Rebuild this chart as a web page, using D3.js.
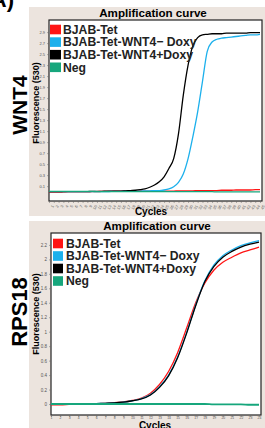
<!DOCTYPE html>
<html>
<head>
<meta charset="utf-8">
<script src="https://cdn.jsdelivr.net/npm/d3@7"></script>
<style>
  body { margin: 0; background: #fff; }
  svg { display: block; font-family: "Liberation Sans", Arial, sans-serif; }
</style>
</head>
<body>
<svg id="chart" width="265" height="428"></svg>
<script>
  const seriesNames = ['BJAB-Tet', 'BJAB-Tet-WNT4\u2212 Doxy', 'BJAB-Tet-WNT4+Doxy', 'Neg'];
  const seriesColors = ['#ff1414', '#1cb0ec', '#000000', '#16a67c'];

  // WNT4 run, 45 cycles
  const wntCycles = d3.range(1, 46);
  const wntRed = [-0.01, -0.01, -0.01, -0.005, 0, 0, 0, 0, 0, 0,
    0, 0.005, 0.005, 0.005, 0.01, 0.01, 0.01, 0.01, 0.01, 0.01,
    0.01, 0.01, 0.01, 0.01, 0.01, 0.01, 0.01, 0.015, 0.015, 0.015,
    0.015, 0.02, 0.02, 0.02, 0.02, 0.02, 0.025, 0.025, 0.025, 0.03,
    0.03, 0.03, 0.03, 0.035, 0.035];
  const wntBlue = [0, 0, 0, 0, 0, 0, 0, 0, 0, 0,
    0, 0, 0, 0.005, 0.005, 0.005, 0.01, 0.01, 0.01, 0.01,
    0.015, 0.015, 0.02, 0.02, 0.03, 0.05, 0.09, 0.17, 0.32, 0.6,
    1.0, 1.45, 2.0, 2.55, 2.72, 2.77, 2.79, 2.8, 2.81, 2.82,
    2.83, 2.84, 2.85, 2.85, 2.86];
  const wntBlack = [0, 0, 0, 0, 0, 0, 0, 0, 0, 0.005,
    0.005, 0.005, 0.01, 0.01, 0.01, 0.01, 0.015, 0.02, 0.025, 0.035,
    0.05, 0.08, 0.12, 0.18, 0.27, 0.42, 0.6, 1.05, 1.75, 2.3,
    2.65, 2.8, 2.85, 2.86, 2.87, 2.87, 2.87, 2.88, 2.88, 2.88,
    2.88, 2.88, 2.89, 2.89, 2.89];
  const wntGreen = [0.005, 0.005, 0.005, 0.005, 0.005, 0.005, 0.005, 0.005, 0.005, 0.005,
    0, 0, 0, 0, 0, 0, 0, 0, 0, 0,
    0, 0, 0, 0, 0, 0, 0, 0, 0, 0,
    0, 0, 0, 0, 0, -0.005, -0.005, -0.005, -0.005, -0.005,
    -0.005, -0.005, -0.005, -0.005, -0.005];
  const wntYTicks = [0.1, 0.3, 0.5, 0.7, 0.9, 1.1, 1.3, 1.5, 1.7, 1.9, 2.1, 2.3, 2.5, 2.7, 2.9];

  // RPS18 run, 24 cycles
  const rpsCycles = d3.range(1, 25);
  const rpsRed = [-0.01, -0.01, -0.005, 0, 0, 0.005, 0.01, 0.02, 0.03, 0.05,
    0.08, 0.15, 0.27, 0.45, 0.71, 1.05, 1.4, 1.67, 1.85, 1.96,
    2.03, 2.09, 2.13, 2.17];
  const rpsBlue = [-0.005, -0.005, 0, 0, 0, 0.005, 0.01, 0.015, 0.025, 0.045,
    0.075, 0.13, 0.24, 0.4, 0.65, 0.99, 1.37, 1.7, 1.92, 2.05,
    2.13, 2.19, 2.23, 2.26];
  const rpsBlack = [-0.005, -0.005, 0, 0, 0, 0.005, 0.01, 0.015, 0.025, 0.045,
    0.07, 0.125, 0.23, 0.39, 0.64, 0.98, 1.36, 1.69, 1.9, 2.03,
    2.11, 2.17, 2.21, 2.24];
  const rpsGreen = [0, 0, 0, 0, 0, 0, 0, 0, 0, 0,
    0, 0, 0, 0, 0, 0, 0, 0, -0.005, -0.005,
    -0.005, -0.005, -0.01, -0.01];
  const rpsYTicks = [0, 0.2, 0.4, 0.6, 0.8, 1, 1.2, 1.4, 1.6, 1.8, 2, 2.2];

  const svg = d3.select('#chart');

  // "A)" panel letter, mostly cropped off
  svg.append('text').attr('x', 14).attr('y', 7).attr('text-anchor', 'end')
    .attr('font-size', 22).attr('font-weight', 'bold').text('A)');

  function drawPanel(p) {
    const g = svg.append('g');
    g.append('rect').attr('x', p.bg[0]).attr('y', p.bg[1]).attr('width', p.bg[2]).attr('height', p.bg[3])
      .attr('fill', '#ece4de');
    g.append('rect').attr('x', p.box[0]).attr('y', p.box[1])
      .attr('width', p.box[2] - p.box[0]).attr('height', p.box[3] - p.box[1])
      .attr('fill', '#fff').attr('stroke', '#222').attr('stroke-width', 1.2);

    const x = d3.scaleLinear().domain([p.cycles[0], p.cycles[p.cycles.length - 1]]).range(p.xRange);
    const y = d3.scaleLinear().domain(p.yDomain).range([p.box[3], p.box[1]]);

    const yAxis = g.append('g').attr('transform', `translate(${p.box[0]},0)`)
      .call(d3.axisLeft(y).tickValues(p.yTicks).tickSize(2).tickPadding(2).tickFormat(d => String(d)));
    yAxis.select('.domain').remove();
    yAxis.selectAll('text').attr('font-size', p.tickFont).attr('fill', '#555').attr('font-family', 'Liberation Sans, Arial');
    yAxis.selectAll('line').attr('stroke', '#666').attr('stroke-width', 0.5);

    const xAxis = g.append('g').attr('transform', `translate(0,${p.box[3]})`)
      .call(d3.axisBottom(x).tickValues(p.cycles).tickSize(2).tickPadding(p.rotateX ? 1 : 0).tickFormat(d => String(d)));
    xAxis.select('.domain').remove();
    xAxis.selectAll('line').attr('stroke', '#666').attr('stroke-width', 0.5);
    xAxis.selectAll('text').attr('font-size', p.xTickFont).attr('fill', '#555').attr('font-family', 'Liberation Sans, Arial');
    if (p.rotateX) {
      xAxis.selectAll('text').attr('text-anchor', 'end').attr('dy', '0.3em')
        .attr('transform', 'translate(1,3) rotate(-60)');
    }

    const line = d3.line().x((d, i) => x(p.cycles[i])).y(d => y(d)).curve(d3.curveMonotoneX);
    p.series.forEach((s, i) => {
      g.append('path').datum(s).attr('d', line).attr('fill', 'none')
        .attr('stroke', seriesColors[i]).attr('stroke-width', p.widths[i]);
    });

    // legend
    seriesNames.forEach((name, i) => {
      const cy = p.legend.y + i * p.legend.step;
      g.append('rect').attr('x', p.legend.x).attr('y', cy - 4.8).attr('width', p.legend.w).attr('height', 9.6)
        .attr('fill', seriesColors[i]);
      g.append('text').attr('x', p.legend.tx).attr('y', cy + 4.3)
        .attr('font-size', 12.2).attr('font-weight', 'bold').attr('fill', '#222').text(name);
    });

    g.append('text').attr('x', p.title[0]).attr('y', p.title[1]).attr('text-anchor', 'middle')
      .attr('font-size', 11.6).attr('font-weight', 'bold').text('Amplification curve');
    g.append('text').attr('x', p.xLabel[0]).attr('y', p.xLabel[1]).attr('text-anchor', 'middle')
      .attr('font-size', 10).attr('font-weight', 'bold').text('Cycles');
    g.append('text').attr('transform', `translate(${p.yLabel[0]},${p.yLabel[1]}) rotate(-90)`)
      .attr('text-anchor', 'middle').attr('font-size', 9).attr('font-weight', 'bold').text('Fluorescence (530)');
    g.append('text').attr('transform', `translate(${p.gene[0]},${p.gene[1]}) rotate(-90)`)
      .attr('text-anchor', 'middle').attr('font-size', p.gene[2]).attr('font-weight', 'bold').text(p.geneName);
  }

  drawPanel({
    bg: [29, 7, 236, 209], box: [49, 20, 262, 201],
    cycles: wntCycles, xRange: [49, 260], yDomain: [-0.17, 3.12], yTicks: wntYTicks,
    series: [wntRed, wntBlue, wntBlack, wntGreen], widths: [1.3, 1.3, 1.3, 1.3],
    tickFont: 4, xTickFont: 4, rotateX: true,
    legend: { x: 50, w: 11, tx: 63, y: 29.5, step: 12.6 },
    title: [153, 17], xLabel: [151, 215], yLabel: [39, 103], gene: [27, 105, 21], geneName: 'WNT4'
  });

  drawPanel({
    bg: [29, 221, 236, 207], box: [51, 233, 261, 415],
    cycles: rpsCycles, xRange: [51, 259], yDomain: [-0.152, 2.365], yTicks: rpsYTicks,
    series: [rpsRed, rpsBlue, rpsBlack, rpsGreen], widths: [1.3, 1.3, 1.3, 1.8],
    tickFont: 4.5, xTickFont: 3.4, rotateX: false,
    legend: { x: 53, w: 10, tx: 66, y: 243.5, step: 12.5 },
    title: [157, 230], xLabel: [155, 428.5], yLabel: [39, 314], gene: [27, 312, 22], geneName: 'RPS18'
  });
</script>
</body>
</html>
